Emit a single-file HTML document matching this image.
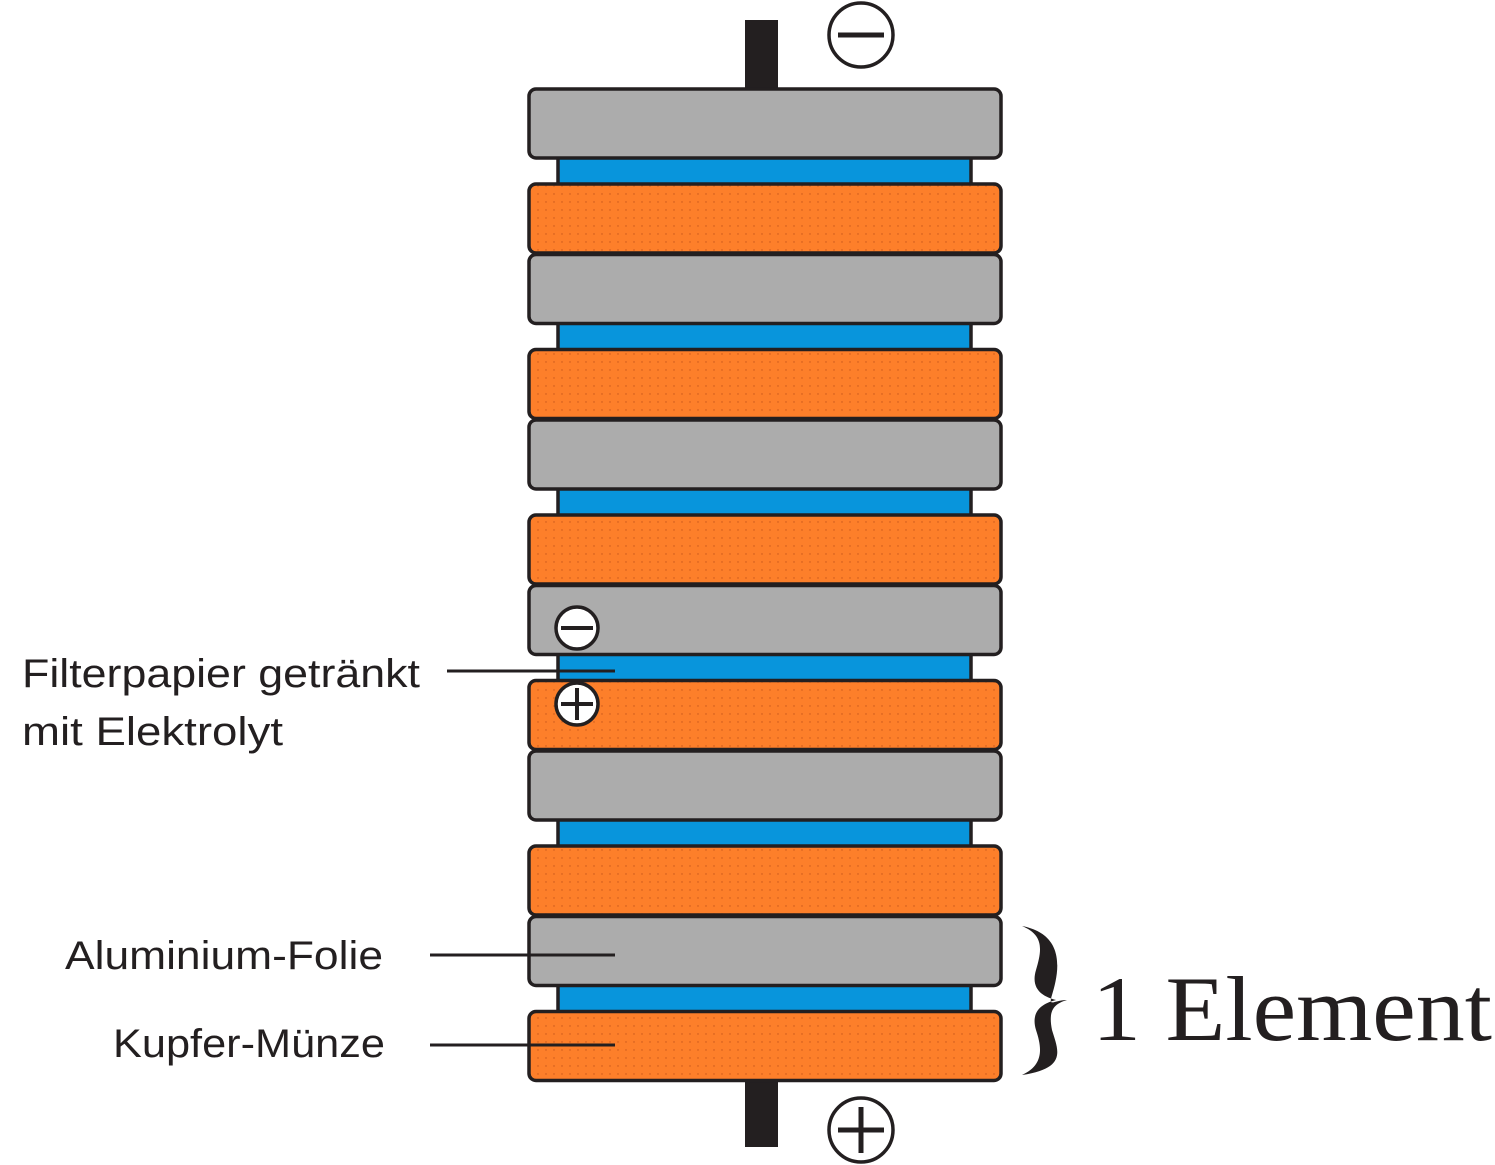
<!DOCTYPE html>
<html><head><meta charset="utf-8"><style>body{margin:0;background:#fff}svg{display:block}</style></head><body>
<svg width="1495" height="1165" viewBox="0 0 1495 1165" xmlns="http://www.w3.org/2000/svg">
<defs>
<pattern id="dots" width="8" height="8" patternUnits="userSpaceOnUse"><rect width="8" height="8" fill="#fd7f2a"/><circle cx="2" cy="2" r="0.7" fill="#c8561a"/></pattern>
</defs>
<rect x="745" y="20" width="33" height="70" fill="#231f20"/>
<rect x="745" y="1078" width="33" height="69" fill="#231f20"/>
<g stroke="#231f20" stroke-width="3.5">
<rect x="558" y="157" width="413" height="28" fill="#0895dc"/>
<rect x="558" y="322.5" width="413" height="28" fill="#0895dc"/>
<rect x="558" y="488" width="413" height="28" fill="#0895dc"/>
<rect x="558" y="653.5" width="413" height="28" fill="#0895dc"/>
<rect x="558" y="819" width="413" height="28" fill="#0895dc"/>
<rect x="558" y="984.5" width="413" height="28" fill="#0895dc"/>
<rect x="529" y="89" width="472" height="69" rx="7" fill="#acacac"/>
<rect x="529" y="184" width="472" height="69" rx="7" fill="url(#dots)"/>
<rect x="529" y="254.5" width="472" height="69" rx="7" fill="#acacac"/>
<rect x="529" y="349.5" width="472" height="69" rx="7" fill="url(#dots)"/>
<rect x="529" y="420" width="472" height="69" rx="7" fill="#acacac"/>
<rect x="529" y="515" width="472" height="69" rx="7" fill="url(#dots)"/>
<rect x="529" y="585.5" width="472" height="69" rx="7" fill="#acacac"/>
<rect x="529" y="680.5" width="472" height="69" rx="7" fill="url(#dots)"/>
<rect x="529" y="751" width="472" height="69" rx="7" fill="#acacac"/>
<rect x="529" y="846" width="472" height="69" rx="7" fill="url(#dots)"/>
<rect x="529" y="916.5" width="472" height="69" rx="7" fill="#acacac"/>
<rect x="529" y="1011.5" width="472" height="69" rx="7" fill="url(#dots)"/>
</g>
<g stroke="#231f20" stroke-width="3.5" fill="#fff">
<circle cx="861" cy="35" r="32"/><line x1="838" y1="35" x2="884" y2="35" stroke-width="5"/>
<circle cx="861" cy="1130" r="32"/><line x1="838" y1="1130" x2="884" y2="1130" stroke-width="5"/><line x1="861" y1="1107" x2="861" y2="1153" stroke-width="5"/>
<circle cx="577" cy="628" r="21"/><line x1="561" y1="628" x2="593" y2="628" stroke-width="4"/>
<circle cx="577" cy="704" r="21"/><line x1="561" y1="704" x2="593" y2="704" stroke-width="4"/><line x1="577" y1="688" x2="577" y2="720" stroke-width="4"/>
</g>
<g stroke="#231f20" stroke-width="3">
<line x1="447" y1="671" x2="615" y2="671"/>
<line x1="430" y1="955" x2="615" y2="955"/>
<line x1="430" y1="1045" x2="615" y2="1045"/>
</g>
<path d="M1022 926 C1068 935,1058 975,1052 995 C1048 1008,1054 1000,1067 1000 C1054 1004,1048 1010,1052 1030 C1058 1050,1068 1068,1022 1075 C1044 1065,1042 1048,1036 1030 C1030 1010,1044 1003,1056 1000 C1044 997,1030 990,1036 970 C1042 950,1044 935,1022 926 Z" fill="#231f20"/>
<g font-family="'Liberation Sans',sans-serif" font-size="40" fill="#231f20" lengthAdjust="spacingAndGlyphs">
<text x="22" y="687" textLength="398" lengthAdjust="spacingAndGlyphs">Filterpapier getränkt</text>
<text x="22" y="745" textLength="261" lengthAdjust="spacingAndGlyphs">mit Elektrolyt</text>
<text x="65" y="969" textLength="318" lengthAdjust="spacingAndGlyphs">Aluminium-Folie</text>
<text x="113" y="1057" textLength="272" lengthAdjust="spacingAndGlyphs">Kupfer-Münze</text>
</g>
<text x="1092" y="1040" font-family="'Liberation Serif',serif" font-size="92" fill="#231f20" textLength="400" lengthAdjust="spacingAndGlyphs">1 Element</text>
</svg>
</body></html>
